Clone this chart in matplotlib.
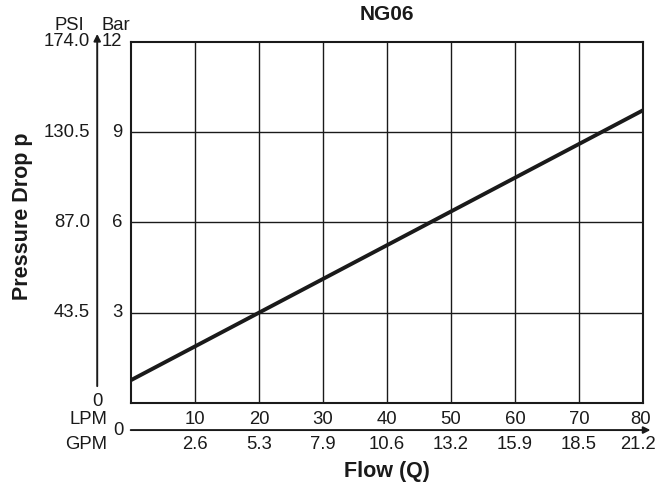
import matplotlib
matplotlib.use("Agg")
from matplotlib import pyplot as plt

plt.rcParams['font.family'] = ['Liberation Sans', 'DejaVu Sans']

# data
flow_lpm = [0, 80]
pressure_bar = [0.76, 9.73]
lpm_ticks = [10, 20, 30, 40, 50, 60, 70, 80]
gpm_labels = ["2.6", "5.3", "7.9", "10.6", "13.2", "15.9", "18.5", "21.2"]
bar_ticks = [3, 6, 9, 12]
psi_labels = ["43.5", "87.0", "130.5", "174.0"]

ink = '#1a1a1a'
fs = 13.3
fig = plt.figure(figsize=(6.57, 4.87), dpi=100)
ax = fig.add_axes([0.1994, 0.1725, 0.7793, 0.7413])

ax.set_xlim(0, 80)
ax.set_ylim(0, 12)
ax.set_xticks(lpm_ticks[:-1])
ax.set_yticks(bar_ticks[:-1])
ax.grid(True, color=ink, lw=1.0)
ax.tick_params(length=0, labelbottom=False, labelleft=False)
for s in ax.spines.values():
    s.set_color(ink)
    s.set_linewidth(1.5)

ax.plot(flow_lpm, pressure_bar, color=ink, lw=2.8, solid_capstyle='butt', clip_on=False)

yt = ax.get_yaxis_transform()
xt = ax.get_xaxis_transform()

# vertical arrow axis with PSI / Bar labels
ax.annotate('', xy=(-0.066, 1.03), xytext=(-0.066, 0.039), xycoords='axes fraction',
            arrowprops=dict(arrowstyle='-|>', color=ink, lw=1.4, mutation_scale=10))
for b, p in zip(bar_ticks, psi_labels):
    ax.text(-0.017, b, str(b), transform=yt, ha='right', va='center', fontsize=fs, color=ink)
    ax.text(-0.080, b, p, transform=yt, ha='right', va='center', fontsize=fs, color=ink)
ax.text(-0.066, 0.004, '0', transform=ax.transAxes, ha='center', va='center', fontsize=fs, color=ink)
ax.text(-0.121, 1.045, 'PSI', transform=ax.transAxes, ha='center', va='center', fontsize=fs, color=ink)
ax.text(-0.029, 1.045, 'Bar', transform=ax.transAxes, ha='center', va='center', fontsize=fs, color=ink)

# horizontal arrow axis with LPM / GPM labels
ax.annotate('', xy=(1.02, -0.075), xytext=(-0.006, -0.075), xycoords='axes fraction',
            arrowprops=dict(arrowstyle='-|>', color=ink, lw=1.4, mutation_scale=10))
for q, g in zip(lpm_ticks, gpm_labels):
    last = q == lpm_ticks[-1]
    ax.text(q - (0.4 if last else 0), -0.047, str(q), transform=xt, ha='center', va='center',
            fontsize=fs, color=ink)
    if last:
        ax.text(1.025, -0.116, g, transform=ax.transAxes, ha='right', va='center',
                fontsize=fs, color=ink)
    else:
        ax.text(q, -0.116, g, transform=xt, ha='center', va='center', fontsize=fs, color=ink)
ax.text(-0.025, -0.075, '0', transform=ax.transAxes, ha='center', va='center', fontsize=fs, color=ink)
ax.text(-0.047, -0.047, 'LPM', transform=ax.transAxes, ha='right', va='center', fontsize=fs, color=ink)
ax.text(-0.047, -0.116, 'GPM', transform=ax.transAxes, ha='right', va='center', fontsize=fs, color=ink)

ax.text(0.5, -0.191, 'Flow (Q)', transform=ax.transAxes, ha='center', va='center',
        fontsize=15.5, fontweight='bold', color=ink)
fig.text(0.0335, 0.5565, 'Pressure Drop p', rotation=90, ha='center', va='center',
         fontsize=15.5, fontweight='bold', color=ink)
ax.text(0.5, 1.075, 'NG06', transform=ax.transAxes, ha='center', va='center',
        fontsize=15, fontweight='bold', color=ink)

fig.savefig('out.png', dpi=100)
